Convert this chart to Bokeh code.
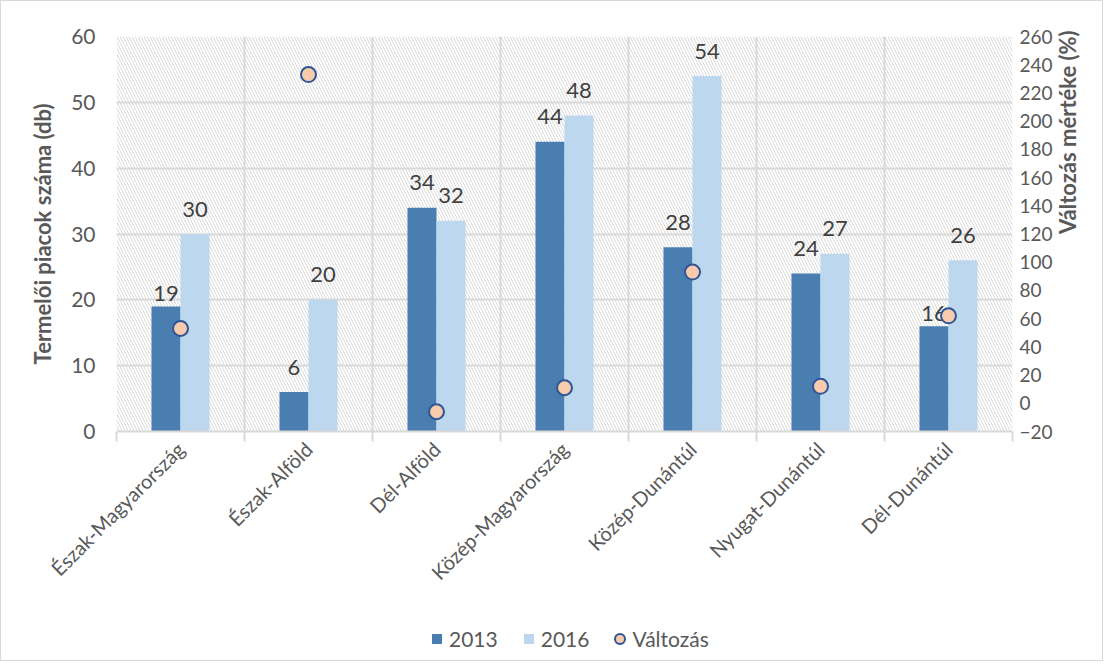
from bokeh.plotting import figure
from bokeh.layouts import column
from bokeh.models import (Range1d, LinearAxis, FixedTicker, Legend, LegendItem,
                          BoxAnnotation, ColumnDataSource)
from bokeh.core.properties import value
from bokeh.embed import file_html
from bokeh.resources import INLINE

categories = ["Észak-Magyarország", "Észak-Alföld", "Dél-Alföld", "Közép-Magyarország",
              "Közép-Dunántúl", "Nyugat-Dunántúl", "Dél-Dunántúl"]
v2013 = [19, 6, 34, 44, 28, 24, 16]
v2016 = [30, 20, 32, 48, 54, 27, 26]
valtozas = [53, 233, -6, 11, 93, 12, 62]
left_ticks = [0, 10, 20, 30, 40, 50, 60]
right_ticks = [-20, 0, 20, 40, 60, 80, 100, 120, 140, 160, 180, 200, 220, 240, 260]
series_names = ["2013", "2016", "Változás"]

FONT = "Lato"
C13 = "#4a7eb0"
C16 = "#bdd7ee"
CDOT = "#f8cbad"
CDOT_LINE = "#2f5597"
GRID = "#d9d9d9"
TXT = "#595959"

n = len(categories)
centers = [i + 0.5 for i in range(n)]
bounds = list(range(n + 1))
bw = 0.2266

p = figure(width=1101, height=607, output_backend="svg", toolbar_location=None,
           x_range=Range1d(0, n), y_range=Range1d(left_ticks[0], left_ticks[-1]),
           min_border_left=115, min_border_right=90, min_border_top=35, min_border_bottom=177)
p.outline_line_color = None
p.background_fill_color = "white"
p.border_fill_color = "white"

p.extra_y_ranges = {"pct": Range1d(right_ticks[0], right_ticks[-1])}

# hatched plot area background
bg = BoxAnnotation(fill_color="white", fill_alpha=1, line_color=None,
                   hatch_pattern="\\", hatch_color="#dadada", hatch_scale=6,
                   hatch_weight=1, level="image")
p.add_layout(bg)

# grids
p.xgrid.ticker = FixedTicker(ticks=bounds)
p.ygrid.ticker = FixedTicker(ticks=left_ticks)
for g in (p.xgrid, p.ygrid):
    g.grid_line_color = GRID
    g.grid_line_width = 2

# x axis
xa = p.xaxis[0]
xa.ticker = FixedTicker(ticks=centers, minor_ticks=bounds)
xa.major_label_overrides = {c: name for c, name in zip(centers, categories)}
xa.major_label_orientation = 0.785398
xa.major_tick_line_color = None
xa.minor_tick_line_color = GRID
xa.minor_tick_line_width = 2
xa.minor_tick_out = 10
xa.minor_tick_in = 0
xa.axis_line_color = GRID
xa.axis_line_width = 2
xa.major_label_text_font = FONT
xa.major_label_text_font_size = "20px"
xa.major_label_text_color = TXT
xa.major_label_standoff = 4

# left axis
ya = p.yaxis[0]
ya.ticker = FixedTicker(ticks=left_ticks)
ya.axis_line_color = None
ya.major_tick_line_color = None
ya.minor_tick_line_color = None
ya.major_tick_out = 0
ya.minor_tick_out = 0
ya.major_label_text_font = FONT
ya.major_label_text_font_size = "21px"
ya.major_label_text_color = TXT
ya.major_label_standoff = 21
ya.axis_label = "Termelői piacok száma (db)"
ya.axis_label_text_font = FONT
ya.axis_label_text_font_size = "22px"
ya.axis_label_text_font_style = "bold"
ya.axis_label_text_color = TXT
ya.axis_label_standoff = 12

# right axis
ra = LinearAxis(y_range_name="pct", ticker=FixedTicker(ticks=right_ticks))
ra.axis_line_color = None
ra.major_tick_line_color = None
ra.minor_tick_line_color = None
ra.major_tick_out = 0
ra.minor_tick_out = 0
ra.major_label_text_font = FONT
ra.major_label_text_font_size = "19px"
ra.major_label_text_color = TXT
ra.major_label_standoff = 7
ra.axis_label = "Változás mértéke (%)"
ra.axis_label_text_font = FONT
ra.axis_label_text_font_size = "22px"
ra.axis_label_text_font_style = "bold"
ra.axis_label_text_color = TXT
ra.axis_label_standoff = 12
if "axis_label_orientation" in ra.properties():
    ra.axis_label_orientation = 1.5708
    ra.axis_label_text_align = "center"
p.add_layout(ra, "right")

# bars
src = ColumnDataSource(dict(
    x13=[c - bw / 2 for c in centers], x16=[c + bw / 2 for c in centers],
    v13=v2013, v16=v2016, xc=centers, pct=valtozas,
    t13=[str(v) for v in v2013], t16=[str(v) for v in v2016],
    off13=[-13 if c in ("Észak-Magyarország", "Dél-Dunántúl") else -25 for c in categories],
))
p.vbar(x="x13", top="v13", width=bw, source=src, fill_color=C13, line_color=None)
p.vbar(x="x16", top="v16", width=bw, source=src, fill_color=C16, line_color=None)

p.text(x="x13", y="v13", text="t13", y_offset="off13", source=src,
       text_align="center", text_baseline="middle", text_font=value(FONT),
       text_font_size="22px", text_color="#404040")
p.text(x="x16", y="v16", text="t16", y_offset=-25, source=src,
       text_align="center", text_baseline="middle", text_font=value(FONT),
       text_font_size="22px", text_color="#404040")

p.scatter(x="xc", y="pct", y_range_name="pct", source=src, size=15,
          marker="circle", fill_color=CDOT, line_color=CDOT_LINE, line_width=2)

# legend strip (separate small figure so the legend is not clipped)
lf = figure(width=1101, height=52, output_backend="svg", toolbar_location=None,
            x_range=Range1d(0, 1), y_range=Range1d(0, 1),
            min_border=0, min_border_left=0, min_border_right=0,
            min_border_top=0, min_border_bottom=0)
lf.axis.visible = False
lf.grid.visible = False
lf.outline_line_color = None
lf.background_fill_color = "white"
lf.border_fill_color = "white"
nan = float("nan")
hidden = ColumnDataSource(dict(x=[nan], y=[nan]))
l13 = lf.scatter(x="x", y="y", source=hidden, marker="square", size=15,
                 fill_color=C13, line_color=None)
l16 = lf.scatter(x="x", y="y", source=hidden, marker="square", size=15,
                 fill_color=C16, line_color=None)
ldot = lf.scatter(x="x", y="y", source=hidden, marker="circle", size=15,
                  fill_color=CDOT, line_color=CDOT_LINE, line_width=2)
legend = Legend(items=[LegendItem(label=series_names[0], renderers=[l13]),
                       LegendItem(label=series_names[1], renderers=[l16]),
                       LegendItem(label=series_names[2], renderers=[ldot])],
                orientation="horizontal", location=(308, 9),
                border_line_color=None, background_fill_alpha=0,
                label_text_font=FONT, label_text_font_size="21px", label_text_color=TXT,
                glyph_width=25, glyph_height=25, spacing=18, padding=0, margin=0,
                label_standoff=0)
lf.add_layout(legend)

layout = column(p, lf, spacing=0)
layout.styles = {"border": "1px solid #d9d9d9"}

open("out.html", "w").write(file_html(layout, INLINE))
